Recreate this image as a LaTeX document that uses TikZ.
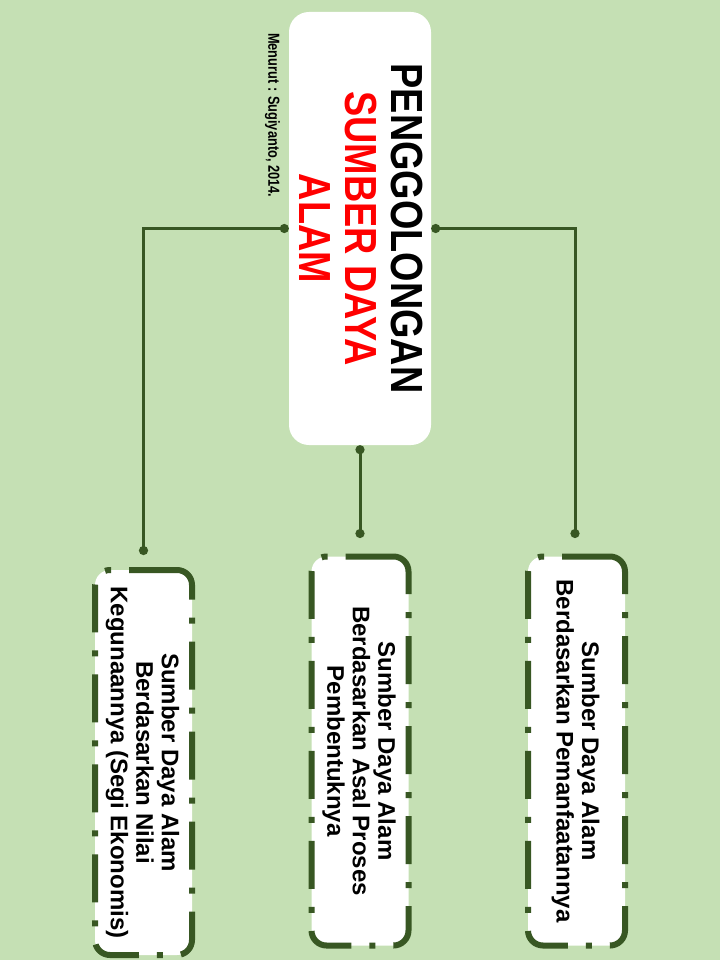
\documentclass[tikz,border=0pt]{standalone}
\usepackage{fontspec}
\setmainfont{Liberation Sans}
\newfontfamily\headfont{Liberation Sans}[FakeStretch=0.84]
\newfontfamily\notefont{Liberation Sans}[FakeStretch=0.8]
\usetikzlibrary{arrows.meta}
\definecolor{bggreen}{HTML}{C5E0B4}
\definecolor{darkgreen}{HTML}{385723}

\begin{document}
\begin{tikzpicture}[x=1pt, y=-1pt,
		mainbox/.style = {rectangle, rounded corners = 20pt, fill = white, inner sep = 0pt, minimum width = 142pt, minimum height = 433pt},
		kindbox/.style = {rectangle, rounded corners = 15pt, fill = white, draw = darkgreen, line width = 6pt, dash pattern = on 48pt off 18pt on 6pt off 18pt, inner sep = 0pt, minimum width = 97pt},
		link/.style = {darkgreen, line width = 3pt, {Circle[length = 9pt]}-{Circle[length = 9pt]}}]
		\fill [bggreen] (0,0) rectangle (720,960);
		\useasboundingbox (0,0) rectangle (720,960);
		\node [mainbox] (main) at (360, 228.5) {\rotatebox{-90}{\raisebox{0pt}[\height][\dimexpr\depth-10pt]{\headfont\bfseries\fontsize{45}{46}\selectfont\begin{tabular}{@{}c@{}}PENGGOLONGAN\\ \color{red}SUMBER DAYA\\ \color{red}ALAM\end{tabular}}}};
		\node [anchor = north, inner sep = 0pt] (source) at (272.5, 33) {\rotatebox{-90}{\notefont\bfseries\fontsize{16}{18}\selectfont Menurut : Sugiyanto, 2014.}};
		\node [kindbox, minimum height = 385pt] (value) at (143.5, 762.5) {\rotatebox{-90}{\raisebox{0pt}[\height][\dimexpr\depth-4pt]{\bfseries\fontsize{24}{25.5}\selectfont\begin{tabular}{@{}c@{}}Sumber Daya Alam\\ Berdasarkan Nilai\\ Kegunaannya (Segi Ekonomis)\end{tabular}}}};
		\node [kindbox, minimum height = 389pt] (origin) at (360, 751) {\rotatebox{-90}{\raisebox{0pt}[\height][\dimexpr\depth-4pt]{\bfseries\fontsize{24}{25.5}\selectfont\begin{tabular}{@{}c@{}}Sumber Daya Alam\\ Berdasarkan Asal Proses\\ Pembentuknya\end{tabular}}}};
		\node [kindbox, minimum height = 389pt] (use) at (576.5, 751) {\rotatebox{-90}{\raisebox{0pt}[\height][\dimexpr\depth-4pt]{\bfseries\fontsize{24}{25.5}\selectfont\begin{tabular}{@{}c@{}}Sumber Daya Alam\\ Berdasarkan Pemanfaatannya\end{tabular}}}};
		\coordinate (valuetip) at (143.5, 555);
		\coordinate (origintip) at (360, 538);
		\coordinate (usetip) at (575, 538);
		\draw [link] (main.west) -| (valuetip);
		\draw [link] (main.south) -- (origintip);
		\draw [link] (main.east) -| (usetip);
	\end{tikzpicture}
\end{document}
